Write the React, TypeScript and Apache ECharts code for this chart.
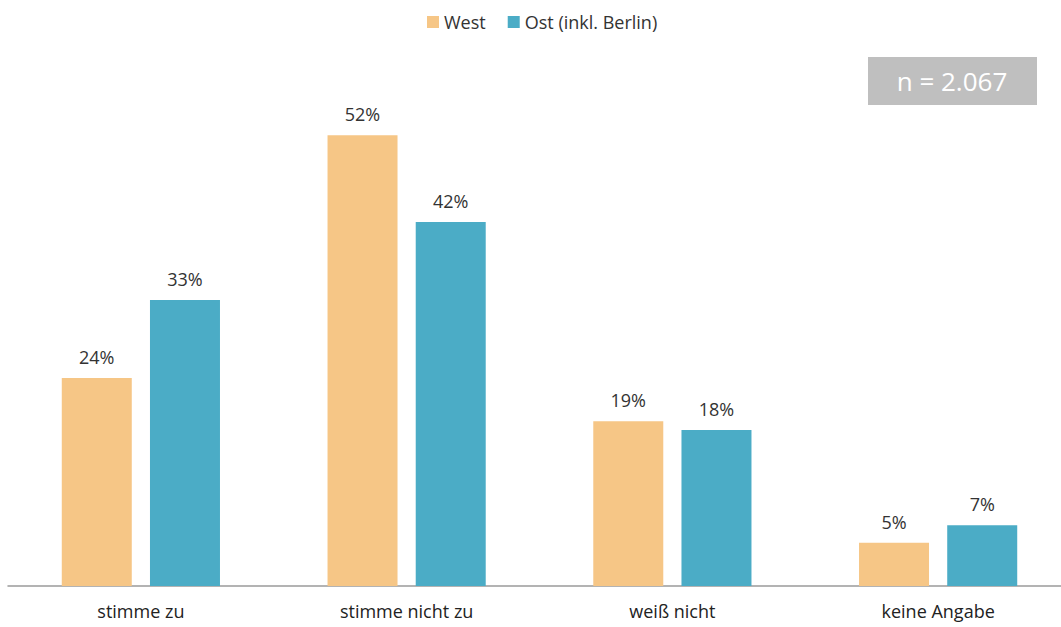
import React, { useEffect, useRef } from "react";
import * as echarts from "echarts";

const categories = ["stimme zu", "stimme nicht zu", "weiß nicht", "keine Angabe"];
const westValues = [24, 52, 19, 5];
const ostValues = [33, 42, 18, 7];
const seriesNames = ["West", "Ost (inkl. Berlin)"];
const sampleLabel = "n = 2.067";

export default function App() {
  const ref = useRef<HTMLDivElement>(null);
  useEffect(() => {
    const chart = echarts.init(ref.current!, null, { renderer: "svg" });
    const font = "'Open Sans', 'Noto Sans', sans-serif";
    const barLabel = {
      show: true,
      position: "top",
      distance: 12,
      formatter: "{c}%",
      fontSize: 18,
      color: "#333",
      fontFamily: font,
    };
    chart.setOption({
      animation: false,
      textStyle: { fontFamily: font },
      legend: {
        data: seriesNames,
        top: 8,
        left: 422,
        itemWidth: 12,
        itemHeight: 12,
        itemGap: 22,
        icon: "rect",
        textStyle: { fontSize: 18, color: "#333", fontFamily: font },
      },
      grid: { left: 8, right: 0, top: 66, bottom: 41, containLabel: false },
      xAxis: {
        type: "category",
        data: categories,
        axisTick: { show: false },
        axisLine: { lineStyle: { color: "#9a9a9a", width: 1.5 } },
        axisLabel: { fontSize: 18, color: "#222", margin: 16, fontFamily: font },
      },
      yAxis: {
        type: "value",
        min: 0,
        max: 60,
        show: false,
        splitLine: { show: false },
      },
      series: [
        {
          name: seriesNames[0],
          type: "bar",
          data: westValues,
          barWidth: 70,
          barGap: "26%",
          itemStyle: { color: "#F6C686" },
          label: barLabel,
        },
        {
          name: seriesNames[1],
          type: "bar",
          data: ostValues,
          barWidth: 70,
          itemStyle: { color: "#4BACC6" },
          label: barLabel,
        },
      ],
      graphic: [
        {
          type: "rect",
          left: 868,
          top: 57,
          shape: { width: 169, height: 48 },
          style: { fill: "#BFBFBF" },
        },
        {
          type: "text",
          x: 952,
          y: 81,
          style: {
            text: sampleLabel,
            fill: "#ffffff",
            fontSize: 26,
            fontFamily: font,
            align: "center",
            verticalAlign: "middle",
          },
        },
      ],
    });
    return () => chart.dispose();
  }, []);
  return (
    <div style={{ position: "fixed", left: 0, top: 0, width: 1061, height: 627, overflow: "hidden", background: "#fff" }}>
      <div ref={ref} style={{ width: 1071, height: 627 }} />
    </div>
  );
}
